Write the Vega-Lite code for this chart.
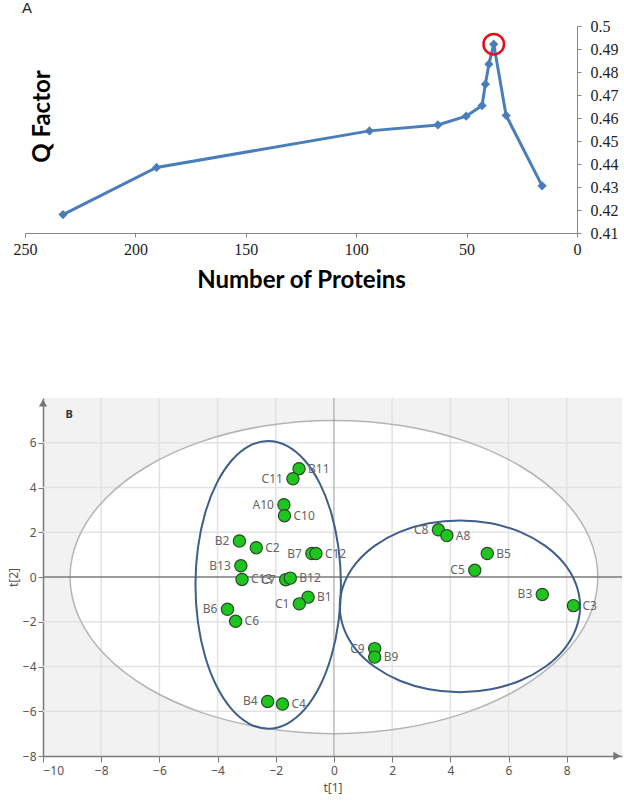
{
  "$schema": "https://vega.github.io/schema/vega-lite/v6.json",
  "padding": {"left": 7, "top": 1, "right": 0, "bottom": 3},
  "background": "white",
  "config": {"view": {"stroke": null}},
  "datasets": {
    "proteins": [
      {"n": 232.8, "q": 0.418}, {"n": 190.4, "q": 0.4385}, {"n": 94, "q": 0.4544},
      {"n": 63, "q": 0.457}, {"n": 50.2, "q": 0.4608}, {"n": 43, "q": 0.4654},
      {"n": 41.5, "q": 0.4747}, {"n": 39.9, "q": 0.4834}, {"n": 37.7, "q": 0.4921},
      {"n": 32.1, "q": 0.4611}, {"n": 15.8, "q": 0.4305}
    ],
    "scores": [
      {"id": "B11", "t1": -1.20, "t2": 4.84}, {"id": "C11", "t1": -1.41, "t2": 4.39},
      {"id": "A10", "t1": -1.72, "t2": 3.23}, {"id": "C10", "t1": -1.70, "t2": 2.74},
      {"id": "B2", "t1": -3.25, "t2": 1.61}, {"id": "C2", "t1": -2.67, "t2": 1.31},
      {"id": "B13", "t1": -3.20, "t2": 0.50}, {"id": "C13", "t1": -3.16, "t2": -0.11},
      {"id": "C7", "t1": -1.66, "t2": -0.12}, {"id": "B12", "t1": -1.50, "t2": -0.05},
      {"id": "B7", "t1": -0.76, "t2": 1.05}, {"id": "C12", "t1": -0.62, "t2": 1.05},
      {"id": "B1", "t1": -0.89, "t2": -0.90}, {"id": "C1", "t1": -1.19, "t2": -1.20},
      {"id": "B6", "t1": -3.66, "t2": -1.44}, {"id": "C6", "t1": -3.38, "t2": -1.98},
      {"id": "B4", "t1": -2.28, "t2": -5.56}, {"id": "C4", "t1": -1.77, "t2": -5.68},
      {"id": "C9", "t1": 1.40, "t2": -3.20}, {"id": "B9", "t1": 1.40, "t2": -3.58},
      {"id": "C8", "t1": 3.59, "t2": 2.11}, {"id": "A8", "t1": 3.88, "t2": 1.85},
      {"id": "B5", "t1": 5.27, "t2": 1.05}, {"id": "C5", "t1": 4.84, "t2": 0.30},
      {"id": "B3", "t1": 7.16, "t2": -0.78}, {"id": "C3", "t1": 8.23, "t2": -1.28}
    ],
    "grid": [
      {"d": "x", "v": -8}, {"d": "x", "v": -6}, {"d": "x", "v": -4}, {"d": "x", "v": -2},
      {"d": "x", "v": 2}, {"d": "x", "v": 4}, {"d": "x", "v": 6}, {"d": "x", "v": 8},
      {"d": "y", "v": -6}, {"d": "y", "v": -4}, {"d": "y", "v": -2},
      {"d": "y", "v": 2}, {"d": "y", "v": 4}, {"d": "y", "v": 6}
    ],
    "ell": [
      {"e": "outer", "i": 0, "t1": 9.07, "t2": 0}, {"e": "outer", "i": 1, "t1": 8.761, "t2": 1.812},
      {"e": "outer", "i": 2, "t1": 7.855, "t2": 3.5}, {"e": "outer", "i": 3, "t1": 6.413, "t2": 4.95},
      {"e": "outer", "i": 4, "t1": 4.535, "t2": 6.062}, {"e": "outer", "i": 5, "t1": 2.347, "t2": 6.761},
      {"e": "outer", "i": 6, "t1": 0, "t2": 7}, {"e": "outer", "i": 7, "t1": -2.347, "t2": 6.761},
      {"e": "outer", "i": 8, "t1": -4.535, "t2": 6.062}, {"e": "outer", "i": 9, "t1": -6.413, "t2": 4.95},
      {"e": "outer", "i": 10, "t1": -7.855, "t2": 3.5}, {"e": "outer", "i": 11, "t1": -8.761, "t2": 1.812},
      {"e": "outer", "i": 12, "t1": -9.07, "t2": 0}, {"e": "outer", "i": 13, "t1": -8.761, "t2": -1.812},
      {"e": "outer", "i": 14, "t1": -7.855, "t2": -3.5}, {"e": "outer", "i": 15, "t1": -6.413, "t2": -4.95},
      {"e": "outer", "i": 16, "t1": -4.535, "t2": -6.062}, {"e": "outer", "i": 17, "t1": -2.347, "t2": -6.761},
      {"e": "outer", "i": 18, "t1": 0, "t2": -7}, {"e": "outer", "i": 19, "t1": 2.347, "t2": -6.761},
      {"e": "outer", "i": 20, "t1": 4.535, "t2": -6.062}, {"e": "outer", "i": 21, "t1": 6.413, "t2": -4.95},
      {"e": "outer", "i": 22, "t1": 7.855, "t2": -3.5}, {"e": "outer", "i": 23, "t1": 8.761, "t2": -1.812},
      {"e": "left", "i": 0, "t1": 0.24, "t2": -0.35}, {"e": "left", "i": 1, "t1": 0.155, "t2": 1.314},
      {"e": "left", "i": 2, "t1": -0.095, "t2": 2.865}, {"e": "left", "i": 3, "t1": -0.492, "t2": 4.197},
      {"e": "left", "i": 4, "t1": -1.01, "t2": 5.218}, {"e": "left", "i": 5, "t1": -1.613, "t2": 5.861},
      {"e": "left", "i": 6, "t1": -2.26, "t2": 6.08}, {"e": "left", "i": 7, "t1": -2.907, "t2": 5.861},
      {"e": "left", "i": 8, "t1": -3.51, "t2": 5.218}, {"e": "left", "i": 9, "t1": -4.028, "t2": 4.197},
      {"e": "left", "i": 10, "t1": -4.425, "t2": 2.865}, {"e": "left", "i": 11, "t1": -4.675, "t2": 1.314},
      {"e": "left", "i": 12, "t1": -4.76, "t2": -0.35}, {"e": "left", "i": 13, "t1": -4.675, "t2": -2.014},
      {"e": "left", "i": 14, "t1": -4.425, "t2": -3.565}, {"e": "left", "i": 15, "t1": -4.028, "t2": -4.897},
      {"e": "left", "i": 16, "t1": -3.51, "t2": -5.918}, {"e": "left", "i": 17, "t1": -2.907, "t2": -6.561},
      {"e": "left", "i": 18, "t1": -2.26, "t2": -6.78}, {"e": "left", "i": 19, "t1": -1.613, "t2": -6.561},
      {"e": "left", "i": 20, "t1": -1.01, "t2": -5.918}, {"e": "left", "i": 21, "t1": -0.492, "t2": -4.897},
      {"e": "left", "i": 22, "t1": -0.095, "t2": -3.565}, {"e": "left", "i": 23, "t1": 0.155, "t2": -2.014},
      {"e": "right", "i": 0, "t1": 8.46, "t2": -1.31}, {"e": "right", "i": 1, "t1": 8.319, "t2": -0.316},
      {"e": "right", "i": 2, "t1": 7.907, "t2": 0.61}, {"e": "right", "i": 3, "t1": 7.25, "t2": 1.405},
      {"e": "right", "i": 4, "t1": 6.395, "t2": 2.015}, {"e": "right", "i": 5, "t1": 5.399, "t2": 2.399},
      {"e": "right", "i": 6, "t1": 4.33, "t2": 2.53}, {"e": "right", "i": 7, "t1": 3.261, "t2": 2.399},
      {"e": "right", "i": 8, "t1": 2.265, "t2": 2.015}, {"e": "right", "i": 9, "t1": 1.41, "t2": 1.405},
      {"e": "right", "i": 10, "t1": 0.753, "t2": 0.61}, {"e": "right", "i": 11, "t1": 0.341, "t2": -0.316},
      {"e": "right", "i": 12, "t1": 0.2, "t2": -1.31}, {"e": "right", "i": 13, "t1": 0.341, "t2": -2.304},
      {"e": "right", "i": 14, "t1": 0.753, "t2": -3.23}, {"e": "right", "i": 15, "t1": 1.41, "t2": -4.025},
      {"e": "right", "i": 16, "t1": 2.265, "t2": -4.635}, {"e": "right", "i": 17, "t1": 3.261, "t2": -5.019},
      {"e": "right", "i": 18, "t1": 4.33, "t2": -5.15}, {"e": "right", "i": 19, "t1": 5.399, "t2": -5.019},
      {"e": "right", "i": 20, "t1": 6.395, "t2": -4.635}, {"e": "right", "i": 21, "t1": 7.25, "t2": -4.025},
      {"e": "right", "i": 22, "t1": 7.907, "t2": -3.23}, {"e": "right", "i": 23, "t1": 8.319, "t2": -2.304}
    ]
  },
  "spacing": 105,
  "vconcat": [
    {
      "width": 534,
      "height": 207,
      "title": {"text": "A", "anchor": "start", "frame": "group", "fontSize": 15, "fontWeight": "normal", "font": "Liberation Sans", "color": "#222", "dx": -21, "offset": 2},
      "data": {"name": "proteins"},
      "encoding": {
        "x": {
          "field": "n", "type": "quantitative",
          "scale": {"domain": [0, 250], "reverse": true, "nice": false, "range": [-18, 534]},
          "axis": {
            "values": [0, 50, 100, 150, 200, 250], "grid": false,
            "title": "Number of Proteins", "titleFont": "Lato", "titleFontSize": 24, "titleFontWeight": "bold", "titleColor": "#000", "titlePadding": 11,
            "labelFont": "Liberation Serif", "labelFontSize": 16, "labelColor": "#222", "labelPadding": 4, "labelFlush": false,
            "tickSize": 4, "tickColor": "#888", "domainColor": "#888"
          }
        }
      },
      "layer": [
        {
          "encoding": {
            "y": {
              "field": "q", "type": "quantitative",
              "scale": {"domain": [0.41, 0.5], "nice": false, "zero": false},
              "axis": {
                "orient": "right", "title": null, "grid": false,
                "values": [0.41, 0.42, 0.43, 0.44, 0.45, 0.46, 0.47, 0.48, 0.49, 0.5], "format": ".2~f",
                "labelFont": "Liberation Serif", "labelFontSize": 16, "labelColor": "#222",
                "tickSize": 4, "labelPadding": 9, "tickColor": "#888", "domainColor": "#888"
              }
            }
          },
          "layer": [
            {"mark": {"type": "line", "color": "#4a7ebb", "strokeWidth": 3}},
            {"mark": {"type": "point", "shape": "diamond", "filled": true, "size": 85, "color": "#4a7ebb", "opacity": 1}},
            {
              "transform": [
                {"joinaggregate": [{"op": "max", "field": "q", "as": "qmax"}]},
                {"filter": "datum.q == datum.qmax"}
              ],
              "mark": {"type": "point", "shape": "circle", "filled": false, "size": 420, "color": "#e3101a", "strokeWidth": 2.5, "opacity": 1}
            }
          ]
        },
        {
          "mark": {"type": "point", "opacity": 0},
          "encoding": {
            "y": {
              "field": "q", "type": "quantitative",
              "scale": {"domain": [0.41, 0.5], "nice": false, "zero": false},
              "axis": {
                "orient": "left", "labels": false, "ticks": false, "domain": false, "grid": false,
                "title": "Q Factor", "titleFont": "Lato", "titleFontSize": 24, "titleFontWeight": "bold", "titleColor": "#000",
                "titleX": 6, "titleY": 90, "titleBaseline": "alphabetic"
              }
            }
          }
        }
      ],
      "resolve": {"axis": {"y": "independent"}}
    },
    {
      "width": 579,
      "height": 358,
      "view": {"fill": "#f2f2f2", "stroke": null},
      "layer": [
        {
          "data": {"name": "ell"},
          "transform": [{"filter": "datum.e == 'outer'"}],
          "mark": {"type": "line", "interpolate": "cardinal-closed", "fill": "white", "strokeWidth": 0},
          "encoding": {
            "x": {
              "field": "t1", "type": "quantitative",
              "scale": {"domain": [-10, 9.9], "nice": false, "zero": false},
              "axis": {
                "title": "t[1]", "grid": false,
                "values": [-10, -9, -8, -7, -6, -5, -4, -3, -2, -1, 0, 1, 2, 3, 4, 5, 6, 7, 8, 9],
                "labelExpr": "datum.value % 2 == 0 ? datum.label : ''",
                "tickSize": {"condition": {"test": "datum.value % 2 == 0", "value": 6}, "value": 3},
                "tickColor": "#7a7a7a", "domainColor": "#7a7a7a", "domainWidth": 1.5,
                "labelFont": "Noto Sans", "labelFontSize": 12, "labelColor": "#555", "labelPadding": 3,
                "titleFont": "Noto Sans", "titleFontSize": 12, "titleFontWeight": "normal", "titleColor": "#555", "titlePadding": 6
              }
            },
            "y": {
              "field": "t2", "type": "quantitative",
              "scale": {"domain": [-8, 8], "nice": false, "zero": false},
              "axis": {
                "title": "t[2]", "grid": false,
                "values": [-8, -7, -6, -5, -4, -3, -2, -1, 0, 1, 2, 3, 4, 5, 6, 7],
                "labelExpr": "datum.value % 2 == 0 ? datum.label : ''",
                "tickSize": {"condition": {"test": "datum.value % 2 == 0", "value": 5}, "value": 3},
                "tickColor": "#7a7a7a", "domainColor": "#7a7a7a", "domainWidth": 1.5,
                "labelFont": "Noto Sans", "labelFontSize": 12, "labelColor": "#555", "labelPadding": 2,
                "titleFont": "Noto Sans", "titleFontSize": 12, "titleFontWeight": "normal", "titleColor": "#555", "titlePadding": 2
              }
            },
            "order": {"field": "i"}
          }
        },
        {
          "data": {"name": "grid"},
          "transform": [{"filter": "datum.d == 'x'"}],
          "mark": {"type": "rule", "color": "#e2e2e2", "strokeWidth": 1.5},
          "encoding": {"x": {"field": "v", "type": "quantitative"}}
        },
        {
          "data": {"name": "grid"},
          "transform": [{"filter": "datum.d == 'y'"}],
          "mark": {"type": "rule", "color": "#e2e2e2", "strokeWidth": 1.5},
          "encoding": {"y": {"field": "v", "type": "quantitative"}}
        },
        {
          "data": {"name": "ell"},
          "transform": [{"filter": "datum.e == 'outer'"}],
          "mark": {"type": "line", "interpolate": "cardinal-closed", "color": "#b4b4b4", "strokeWidth": 1.5},
          "encoding": {
            "x": {"field": "t1", "type": "quantitative"},
            "y": {"field": "t2", "type": "quantitative"},
            "order": {"field": "i"}
          }
        },
        {
          "data": {"values": [{}]},
          "mark": {"type": "rule", "color": "#9a9a9a", "strokeWidth": 1},
          "encoding": {"x": {"datum": 0, "type": "quantitative"}}
        },
        {
          "data": {"values": [{}]},
          "mark": {"type": "rule", "color": "#7a7a7a", "strokeWidth": 1.5},
          "encoding": {"y": {"datum": 0, "type": "quantitative"}}
        },
        {
          "data": {"name": "ell"},
          "transform": [{"filter": "datum.e != 'outer'"}],
          "mark": {"type": "line", "interpolate": "cardinal-closed", "color": "#3e5f8a", "strokeWidth": 2},
          "encoding": {
            "x": {"field": "t1", "type": "quantitative"},
            "y": {"field": "t2", "type": "quantitative"},
            "detail": {"field": "e"},
            "order": {"field": "i"}
          }
        },
        {
          "data": {"name": "scores"},
          "mark": {"type": "point", "shape": "circle", "filled": true, "size": 150, "fill": "#1fc41f", "stroke": "#284a28", "strokeWidth": 1.2, "opacity": 1},
          "encoding": {
            "x": {"field": "t1", "type": "quantitative"},
            "y": {"field": "t2", "type": "quantitative"}
          }
        },
        {
          "data": {"name": "scores"},
          "transform": [{"filter": {"not": {"field": "id", "oneOf": ["C11", "A10", "B2", "B13", "C7", "B7", "B6", "C1", "C8", "C5", "B3", "C9", "B4"]}}}],
          "mark": {"type": "text", "align": "left", "baseline": "middle", "dx": 9, "font": "Noto Sans", "fontSize": 12, "color": "#666"},
          "encoding": {
            "x": {"field": "t1", "type": "quantitative"},
            "y": {"field": "t2", "type": "quantitative"},
            "text": {"field": "id"}
          }
        },
        {
          "data": {"name": "scores"},
          "transform": [{"filter": {"field": "id", "oneOf": ["C11", "A10", "B2", "B13", "C7", "B7", "B6", "C1", "C8", "C5", "B3", "C9", "B4"]}}],
          "mark": {"type": "text", "align": "right", "baseline": "middle", "dx": -10, "font": "Noto Sans", "fontSize": 12, "color": "#666"},
          "encoding": {
            "x": {"field": "t1", "type": "quantitative"},
            "y": {"field": "t2", "type": "quantitative"},
            "text": {"field": "id"}
          }
        },
        {
          "data": {"values": [{}]},
          "mark": {"type": "point", "shape": "triangle-up", "filled": true, "size": 70, "color": "#777", "opacity": 1, "yOffset": 5},
          "encoding": {"x": {"datum": -10, "type": "quantitative"}, "y": {"datum": 8, "type": "quantitative"}}
        },
        {
          "data": {"values": [{}]},
          "mark": {"type": "point", "shape": "triangle-right", "filled": true, "size": 70, "color": "#777", "opacity": 1, "xOffset": -5},
          "encoding": {"x": {"datum": 9.9, "type": "quantitative"}, "y": {"datum": -8, "type": "quantitative"}}
        },
        {
          "data": {"values": [{}]},
          "mark": {"type": "text", "text": "B", "font": "Noto Sans", "fontSize": 11, "fontWeight": "bold", "color": "#333"},
          "encoding": {"x": {"datum": -9.1, "type": "quantitative"}, "y": {"datum": 7.25, "type": "quantitative"}}
        }
      ]
    }
  ]
}
